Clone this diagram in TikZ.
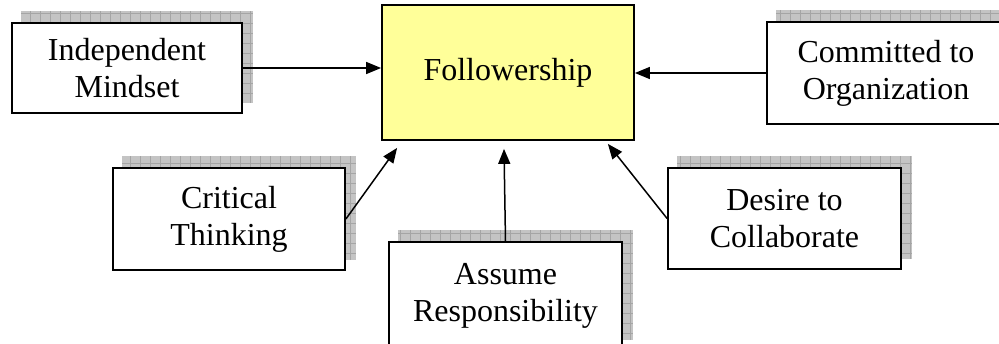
\documentclass[tikz,border=0pt]{standalone}
\usepackage{fontspec}
\setmainfont{Liberation Serif}
\usetikzlibrary{arrows.meta,calc}
\pgfdeclarelayer{background}
\pgfsetlayers{background,main}
\definecolor{shadowfill}{RGB}{196,196,196}
\definecolor{shadowline}{RGB}{165,165,165}
\definecolor{folfill}{RGB}{255,255,153}
\tikzset{
  box/.style={draw=black, line width=1.8pt, fill=white, align=center, inner sep=0pt,
    font=\fontsize{32}{37}\selectfont},
  conn/.style={line width=1.5pt, -{Triangle[length=15pt,width=12pt]}}
}
\newcommand{\shadowof}[1]{%
  \begin{scope}
    \clip ($(#1.south west)+(10,11)$) rectangle ($(#1.north east)+(10,11)$);
    \fill[shadowfill] ($(#1.south west)+(10,11)$) rectangle ($(#1.north east)+(10,11)$);
    \draw[shadowline, line width=0.5pt, step=10pt] ($(#1.south west)+(0,0)$) grid ($(#1.north east)+(20,20)$);
  \end{scope}}
\begin{document}
\begin{tikzpicture}[x=1pt,y=1pt]
\useasboundingbox (0,0) rectangle (999,343);
\node[box, minimum width=230pt, minimum height=90pt] (ind) at (127,275) {Independent\\Mindset};
\node[box, fill=folfill, minimum width=252pt, minimum height=135pt] (fol) at (508,270.5) {Followership};
\node[box, minimum width=238pt, minimum height=102pt] (com) at (886,270) {Committed to\\Organization};
\node[box, minimum width=232pt, minimum height=102pt] (cri) at (229,124) {Critical\\Thinking};
\node[box, minimum width=233pt, minimum height=101pt] (des) at (784.5,124.5) {Desire to\\Collaborate};
\node[box, minimum width=233pt, minimum height=108pt] (asm) at (505.5,47) {Assume\\Responsibility};
\begin{pgfonlayer}{background}
  \shadowof{ind}
  \shadowof{com}
  \shadowof{cri}
  \shadowof{des}
  \shadowof{asm}
\end{pgfonlayer}
\coordinate (tcri) at ($(fol.south west)+(16,-7)$);
\coordinate (tasm) at ($(fol.south)+(-4,-8)$);
\coordinate (tdes) at ($(fol.south east)+(-27,-3)$);
\draw[conn] (ind.east) -- (fol.west |- ind.east);
\draw[conn] (com.west) -- (fol.east |- com.west);
\draw[conn] (cri.east) -- (tcri);
\draw[conn] (asm.north) -- (tasm);
\draw[conn] (des.west) -- (tdes);
\end{tikzpicture}
\end{document}
